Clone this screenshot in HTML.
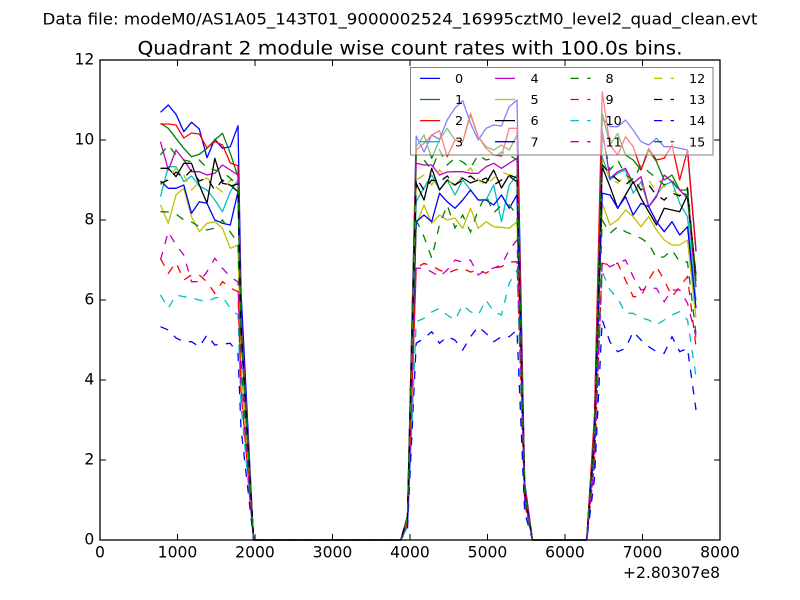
<!DOCTYPE html>
<html>
<head>
<meta charset="utf-8">
<style>
html,body{margin:0;padding:0;background:#fff;}
svg{display:block;}
text{font-family:"DejaVu Sans","Liberation Sans",sans-serif;fill:#000;}
</style>
</head>
<body>
<svg width="800" height="600" viewBox="0 0 800 600" xmlns="http://www.w3.org/2000/svg">
<rect x="0" y="0" width="800" height="600" fill="#fff"/>
<text x="400" y="24.3" font-size="16" text-anchor="middle" textLength="715" lengthAdjust="spacingAndGlyphs">Data file: modeM0/AS1A05_143T01_9000002524_16995cztM0_level2_quad_clean.evt</text>
<text x="410" y="54.3" font-size="18.7" text-anchor="middle" textLength="545" lengthAdjust="spacingAndGlyphs">Quadrant 2 module wise count rates with 100.0s bins.</text>
<rect x="100" y="60" width="620" height="480" fill="#fff"/>
<g fill="none" stroke-width="1.3" stroke-linejoin="round">
<polyline stroke="#0000ff" points="160.5,112.3 168.3,105 176,114.3 183.8,131.7 191.5,122.3 199.3,129 207,157.7 214.8,139.3 222.5,148.3 230.3,146.7 238,125.7 241,291.4 253.6,540 400.7,540 407.5,515.8 416.2,136 424,152 431.7,135 439.5,139.3 447.2,120 455,108 462.7,100.7 470.5,123.3 478.2,140 486,128.3 493.7,125 501.5,126 509.2,106.7 517,100 524.7,482.8 532.5,540 586.7,540 594.5,421.8 602.2,118 610,126.7 617.7,126.7 625.5,120 633.2,130 641,141.7 648.7,145 656.5,138.3 664.2,146.7 672,146.7 679.7,148.3 687.5,150 696,251.4"/>
<polyline stroke="#008000" points="160.5,123.3 168.3,128.3 176,138.3 183.8,148.3 191.5,156.7 199.3,154.3 207,148.3 214.8,140 222.5,133.3 230.3,153.3 238,176.7 241,322 253.6,540 400.7,540 407.5,516.4 416.2,146.7 424,135 431.7,158.3 439.5,140 447.2,128.3 455,140 462.7,141.7 470.5,115 478.2,136.7 486,146.7 493.7,150 501.5,145 509.2,150 517,135 524.7,487.4 532.5,540 586.7,540 594.5,420.5 602.2,113.3 610,145 617.7,133.3 625.5,155 633.2,160 641,170 648.7,150 656.5,161.7 664.2,180 672,175 679.7,190 687.5,190 696,281"/>
<polyline stroke="#ff0000" points="160.5,124 168.3,124 176,125 183.8,138 191.5,133 199.3,134 207,148 214.8,141.7 222.5,145 230.3,163 238,165.7 241,315.4 253.6,540 400.7,540 407.5,516.6 416.2,150 424,143.3 431.7,135 439.5,130.7 447.2,156.7 455,140 462.7,141.7 470.5,113.3 478.2,136.7 486,148.3 493.7,155 501.5,156 509.2,128.3 517,128.3 524.7,486.5 532.5,540 586.7,540 594.5,414.6 602.2,92 610,145 617.7,155 625.5,136.7 633.2,146.7 641,170 648.7,148.3 656.5,160 664.2,158.3 672,145 679.7,180 687.5,150 696,250"/>
<polyline stroke="#00bfbf" points="160.5,196.7 168.3,166.7 176,166.7 183.8,181.7 191.5,176 199.3,186 207,190 214.8,200 222.5,211.7 230.3,191.7 238,180 241,324 253.6,540 400.7,540 407.5,519.7 416.2,201.7 424,188 431.7,175 439.5,190 447.2,180 455,195 462.7,180 470.5,190 478.2,200 486,200 493.7,185 501.5,221.7 509.2,185 517,175 524.7,492.6 532.5,540 586.7,540 594.5,432.7 602.2,156.7 610,180 617.7,173.3 625.5,170 633.2,193.3 641,181.7 648.7,206.7 656.5,195 664.2,185 672,181.7 679.7,203.3 687.5,216.7 696,300.8"/>
<polyline stroke="#bf00bf" points="160.5,141.7 168.3,170 176,150 183.8,160 191.5,171.7 199.3,171.7 207,175 214.8,173.3 222.5,165 230.3,170 238,175 241,321 253.6,540 400.7,540 407.5,517.4 416.2,163.3 424,165 431.7,165 439.5,175 447.2,172 455,171.7 462.7,171.7 470.5,173.3 478.2,173.3 486,166.7 493.7,163.3 501.5,168.3 509.2,163.3 517,158.3 524.7,490.4 532.5,540 586.7,540 594.5,425.2 602.2,130 610,178.3 617.7,171.7 625.5,168.3 633.2,183.3 641,176.7 648.7,206.7 656.5,196.7 664.2,175 672,181.7 679.7,190 687.5,198.3 696,287.1"/>
<polyline stroke="#bfbf00" points="160.5,205 168.3,223.3 176,195 183.8,188.3 191.5,216.7 199.3,231.7 207,223.3 214.8,221.7 222.5,228.3 230.3,248.3 238,245 241,363 253.6,540 400.7,540 407.5,521.1 416.2,225 424,205 431.7,223.3 439.5,215 447.2,220 455,218 462.7,228.3 470.5,208.3 478.2,228.3 486,221.7 493.7,226.7 501.5,227.3 509.2,228.3 517,221.7 524.7,498.6 532.5,540 586.7,540 594.5,445.7 602.2,203.3 610,225 617.7,220 625.5,210 633.2,216.7 641,226.7 648.7,216.7 656.5,230 664.2,240 672,245 679.7,245 687.5,240 696,318"/>
<polyline stroke="#000000" points="160.5,168.3 168.3,168.3 176,176.7 183.8,163.3 191.5,163.3 199.3,185 207,203.3 214.8,158.3 222.5,183.3 230.3,185 238,191.7 241,331 253.6,540 400.7,540 407.5,518.6 416.2,183.3 424,200 431.7,168.3 439.5,190 447.2,180 455,185 462.7,178 470.5,183 478.2,180 486,183 493.7,170 501.5,188 509.2,175 517,178 524.7,492.9 532.5,540 586.7,540 594.5,435.5 602.2,166.7 610,186.7 617.7,208.3 625.5,195 633.2,181.7 641,198.3 648.7,211.7 656.5,225 664.2,208.3 672,210 679.7,211.7 687.5,195 696,275"/>
<polyline stroke="#0000ff" points="160.5,181 168.3,188.3 176,188.3 183.8,185 191.5,213.3 199.3,201.7 207,203.3 214.8,220 222.5,223.3 230.3,225 238,191.7 241,331 253.6,540 400.7,540 407.5,520.9 416.2,221.7 424,215 431.7,221.7 439.5,193.3 447.2,201.7 455,208.3 462.7,200 470.5,190 478.2,200 486,200 493.7,205 501.5,195 509.2,208.3 517,195 524.7,495.1 532.5,540 586.7,540 594.5,442.9 602.2,193.3 610,195 617.7,208.3 625.5,196.7 633.2,215 641,203.3 648.7,206.7 656.5,221.7 664.2,231.7 672,221.7 679.7,235 687.5,226.7 696,308.2"/>
</g>
<g fill="none" stroke-width="1.3" stroke-dasharray="8.3 8.3">
<polyline stroke="#008000" points="160.5,211.7 168.3,212 176,214 183.8,220 191.5,222 199.3,226.7 207,230 214.8,228 222.5,220 230.3,232 238,243.3 241,362 253.6,540 400.7,540 407.5,520.8 416.2,220 424,236.7 431.7,258 439.5,225 447.2,205 455,228 462.7,215 470.5,232 478.2,210 486,195 493.7,213 501.5,205 509.2,205 517,215 524.7,497.7 532.5,540 586.7,540 594.5,450.4 602.2,220 610,233.3 617.7,226.7 625.5,231.7 633.2,235 641,238.3 648.7,243.3 656.5,258.3 664.2,256.7 672,250 679.7,261.7 687.5,262 696,334"/>
<polyline stroke="#ff0000" points="160.5,258.3 168.3,273.3 176,262.5 183.8,280 191.5,275 199.3,275 207,282 214.8,293.3 222.5,281.7 230.3,288 238,291.7 241,391 253.6,540 400.7,540 407.5,523.7 416.2,268 424,263.3 431.7,266 439.5,270 447.2,273.3 455,270 462.7,268.3 470.5,272 478.2,270 486,273.3 493.7,268 501.5,266.7 509.2,262 517,261.7 524.7,503.8 532.5,540 586.7,540 594.5,462.5 602.2,263.3 610,265 617.7,263.3 625.5,280 633.2,296.7 641,296.7 648.7,280 656.5,266.7 664.2,280 672,296.7 679.7,286.7 687.5,276.7 696,346.7"/>
<polyline stroke="#00bfbf" points="160.5,295 168.3,308.3 176,295 183.8,296.7 191.5,298 199.3,300 207,301.7 214.8,298 222.5,296.7 230.3,308.3 238,315 241,405 253.6,540 400.7,540 407.5,526.9 416.2,321.7 424,318.3 431.7,312 439.5,308.3 447.2,315 455,320 462.7,305 470.5,311.7 478.2,315 486,300 493.7,311.7 501.5,315 509.2,283.3 517,270 524.7,504.9 532.5,540 586.7,540 594.5,464.9 602.2,271.7 610,290 617.7,298.3 625.5,313.3 633.2,313.3 641,318 648.7,320 656.5,325 664.2,320 672,315 679.7,311.7 687.5,320 696,376.7"/>
<polyline stroke="#bf00bf" points="160.5,260 168.3,231.7 176,245 183.8,255 191.5,281.7 199.3,281.7 207,271.7 214.8,258.3 222.5,268.3 230.3,276.7 238,282 241,385.2 253.6,540 400.7,540 407.5,523.7 416.2,268.3 424,268 431.7,272 439.5,276.7 447.2,270 455,260 462.7,262 470.5,260 478.2,275 486,270 493.7,268 501.5,265 509.2,250 517,240 524.7,501 532.5,540 586.7,540 594.5,462.1 602.2,261.7 610,266.7 617.7,263 625.5,260 633.2,276.7 641,290 648.7,288.3 656.5,288.3 664.2,301.7 672,290 679.7,290 687.5,303.3 696,336.7"/>
<polyline stroke="#bfbf00" points="160.5,185 168.3,178 176,168 183.8,175 191.5,190 199.3,182 207,178 214.8,186 222.5,192 230.3,180 238,185 241,327 253.6,540 400.7,540 407.5,518.4 416.2,180 424,175 431.7,185 439.5,170 447.2,178 455,188 462.7,175 470.5,168 478.2,180 486,185 493.7,178 501.5,172 509.2,175 517,170 524.7,491.9 532.5,540 586.7,540 594.5,433.6 602.2,160 610,178 617.7,183 625.5,175 633.2,185 641,190 648.7,180 656.5,192 664.2,186 672,190 679.7,195 687.5,188 696,279.5"/>
<polyline stroke="#000000" points="160.5,183.3 168.3,180 176,172 183.8,178 191.5,170 199.3,181 207,178 214.8,190 222.5,180 230.3,186 238,184 241,326.4 253.6,540 400.7,540 407.5,518.3 416.2,178 424,190 431.7,180 439.5,182 447.2,176 455,185 462.7,180 470.5,176 478.2,182 486,178 493.7,185 501.5,180 509.2,176 517,182 524.7,493.5 532.5,540 586.7,540 594.5,435 602.2,165 610,173.3 617.7,180 625.5,185 633.2,178 641,190 648.7,185 656.5,195 664.2,200 672,193 679.7,196 687.5,188 696,282"/>
<polyline stroke="#0000ff" points="160.5,326.7 168.3,330 176,338 183.8,341.7 191.5,341.7 199.3,346.7 207,335 214.8,345 222.5,344 230.3,343.3 238,353.3 241,428 253.6,540 400.7,540 407.5,528.2 416.2,343.3 424,338.3 431.7,331.7 439.5,343.3 447.2,336.7 455,340 462.7,350 470.5,336.7 478.2,326.7 486,333.3 493.7,341.7 501.5,336.7 509.2,336.7 517,330 524.7,512.7 532.5,540 586.7,540 594.5,478.4 602.2,320 610,342 617.7,351.7 625.5,348.3 633.2,331.7 641,340 648.7,346.7 656.5,351.7 664.2,353.3 672,336.7 679.7,351.7 687.5,348.3 696,410"/>
<polyline stroke="#008000" points="160.5,155 168.3,145 176,155 183.8,160 191.5,161.7 199.3,160 207,168.3 214.8,170 222.5,172 230.3,178.3 238,185 241,327 253.6,540 400.7,540 407.5,516.9 416.2,155 424,160 431.7,170 439.5,150 447.2,165 455,158 462.7,162 470.5,168 478.2,155 486,160 493.7,158 501.5,152 509.2,155 517,160 524.7,490.6 532.5,540 586.7,540 594.5,426.6 602.2,135 610,170 617.7,160 625.5,175 633.2,180 641,165 648.7,172 656.5,178 664.2,185 672,180 679.7,192 687.5,195 696,284.7"/>
</g>
<!-- axes frame -->
<rect x="100" y="60" width="620" height="480" fill="none" stroke="#000" stroke-width="1.3"/>
<!-- ticks -->
<g stroke="#000" stroke-width="1">
<path d="M177.5,540V534M255,540V534M332.5,540V534M410,540V534M487.5,540V534M565,540V534M642.5,540V534"/>
<path d="M177.5,60V66M255,60V66M332.5,60V66M410,60V66M487.5,60V66M565,60V66M642.5,60V66"/>
<path d="M100,460H106M100,380H106M100,300H106M100,220H106M100,140H106"/>
<path d="M720,460H714M720,380H714M720,300H714M720,220H714M720,140H714"/>
</g>
<!-- x tick labels -->
<g font-size="15.6" text-anchor="middle">
<text x="100" y="557.3">0</text>
<text x="177.5" y="557.3">1000</text>
<text x="255" y="557.3">2000</text>
<text x="332.5" y="557.3">3000</text>
<text x="410" y="557.3">4000</text>
<text x="487.5" y="557.3">5000</text>
<text x="565" y="557.3">6000</text>
<text x="642.5" y="557.3">7000</text>
<text x="720" y="557.3">8000</text>
</g>
<g font-size="15.6" text-anchor="end">
<text x="94.3" y="544.3">0</text>
<text x="94.3" y="464.3">2</text>
<text x="94.3" y="384.3">4</text>
<text x="94.3" y="304.3">6</text>
<text x="94.3" y="224.3">8</text>
<text x="94.3" y="144.3">10</text>
<text x="94.3" y="64.3">12</text>
</g>
<text x="720" y="578" font-size="15.6" text-anchor="end">+2.80307e8</text>
<!-- legend -->
<rect x="410.5" y="67.5" width="302.5" height="87.5" fill="#fff" fill-opacity="0.5" stroke="#808080" stroke-width="1"/>
<g fill="none" stroke-width="1.3">
<path stroke="#0000ff" d="M420,78.4H440"/>
<path stroke="#008000" d="M420,99.5H440"/>
<path stroke="#ff0000" d="M420,120.6H440"/>
<path stroke="#00bfbf" d="M420,141.7H440"/>
<path stroke="#bf00bf" d="M495,78.4H515"/>
<path stroke="#bfbf00" d="M495,99.5H515"/>
<path stroke="#000000" d="M495,120.6H515"/>
<path stroke="#0000ff" d="M495,141.7H515"/>
</g>
<g fill="none" stroke-width="1.3" stroke-dasharray="8.3 8.3">
<path stroke="#008000" d="M570.5,78.4H590.5"/>
<path stroke="#ff0000" d="M570.5,99.5H590.5"/>
<path stroke="#00bfbf" d="M570.5,120.6H590.5"/>
<path stroke="#bf00bf" d="M570.5,141.7H590.5"/>
<path stroke="#bfbf00" d="M654,78.4H674"/>
<path stroke="#000000" d="M654,99.5H674"/>
<path stroke="#0000ff" d="M654,120.6H674"/>
<path stroke="#008000" d="M654,141.7H674"/>
</g>
<g font-size="12.8">
<text x="455" y="83">0</text>
<text x="455" y="104.1">1</text>
<text x="455" y="125.2">2</text>
<text x="455" y="146.3">3</text>
<text x="530.5" y="83">4</text>
<text x="530.5" y="104.1">5</text>
<text x="530.5" y="125.2">6</text>
<text x="530.5" y="146.3">7</text>
<text x="605.5" y="83">8</text>
<text x="605.5" y="104.1">9</text>
<text x="605.5" y="125.2">10</text>
<text x="605.5" y="146.3">11</text>
<text x="689" y="83">12</text>
<text x="689" y="104.1">13</text>
<text x="689" y="125.2">14</text>
<text x="689" y="146.3">15</text>
</g>
</svg>
</body>
</html>
